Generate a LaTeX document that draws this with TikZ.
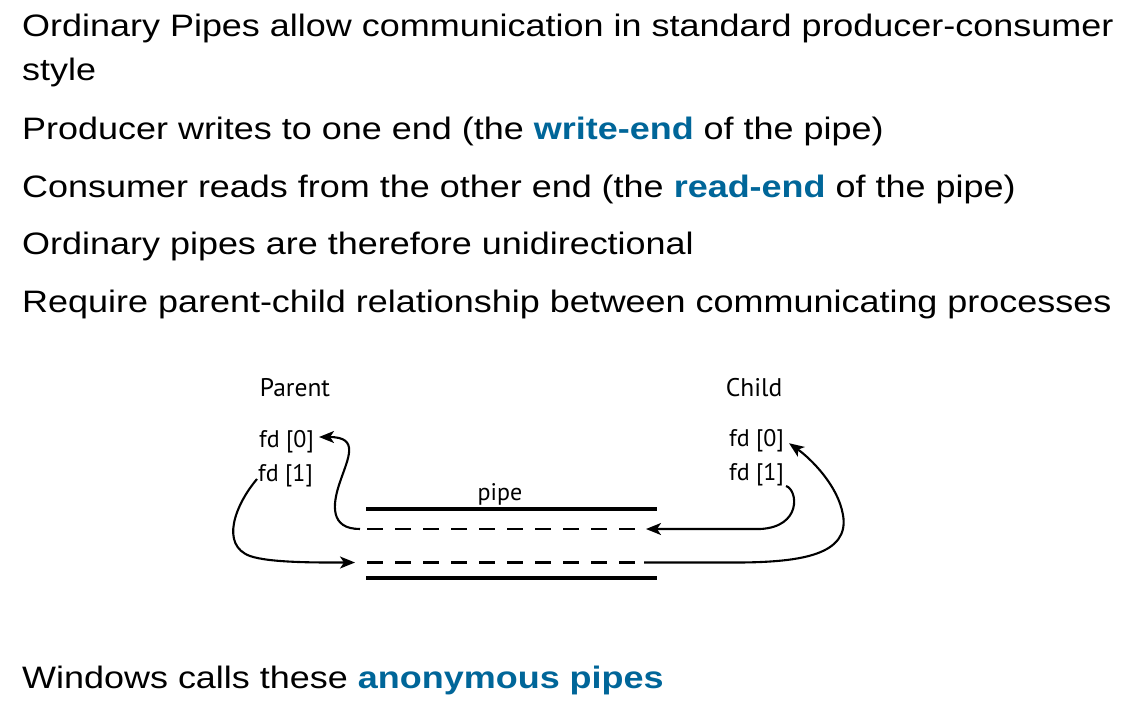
\documentclass[tikz,border=0pt]{standalone}
\usepackage{fontspec}
\setmainfont{Liberation Sans}[FakeStretch=1.16]
\newfontfamily\diagfont{PT Sans}
\usetikzlibrary{arrows.meta}
\definecolor{keyblue}{RGB}{0,102,153}
\tikzset{
  body/.style={anchor=base west, inner sep=0pt, font=\fontsize{31}{31}\selectfont},
  proc/.style={anchor=base, inner sep=0pt, font=\diagfont\fontsize{25.5}{25.5}\selectfont},
  fdlabel/.style={anchor=base west, inner sep=0pt, font=\diagfont\fontsize{24}{24}\selectfont},
  pipewall/.style={line width=4.2pt},
  pipeflow/.style={line width=2.2pt, dash pattern=on 16pt off 12pt},
  conn/.style={line width=2.1pt, -{Stealth[length=15pt,width=12pt,inset=4pt]}},
}
\newcommand{\kwd}[1]{\textbf{\color{keyblue}#1}}
\begin{document}
\begin{tikzpicture}[x=1pt,y=-1pt]
\useasboundingbox (0,0) rectangle (1137,710);
\fill[white] (0,0) rectangle (1137,710);
% bullet text
\node[body] (l1) at (22,36) {Ordinary Pipes allow communication in standard producer-consumer};
\node[body] (l2) at (22,80) {style};
\node[body] (l3) at (22,139) {Producer writes to one end (the \kwd{write-end} of the pipe)};
\node[body] (l4) at (22,197) {Consumer reads from the other end (the \kwd{read-end} of the pipe)};
\node[body] (l5) at (22,254) {Ordinary pipes are therefore unidirectional};
\node[body] (l6) at (22,312) {Require parent-child relationship between communicating processes};
\node[body] (l7) at (22,688) {Windows calls these \kwd{anonymous pipes}};
% diagram labels
\node[proc] (parent) at (295,396) {Parent};
\node[proc] (child) at (754,396) {Child};
\node[fdlabel] (pfd0) at (259,447) {fd [0]};
\node[fdlabel] (pfd1) at (258,481) {fd [1]};
\node[fdlabel] (cfd0) at (729,446) {fd [0]};
\node[fdlabel] (cfd1) at (729,480) {fd [1]};
\node[proc, font=\diagfont\fontsize{24}{24}\selectfont] (pipe) at (500,500) {pipe};
% pipe
\coordinate (topL) at (366,509);  \coordinate (topR) at (657,509);
\coordinate (botL) at (366,578);  \coordinate (botR) at (657,578);
\coordinate (upL) at (367,529);   \coordinate (upR) at (636,529);
\coordinate (loL) at (367,562.5); \coordinate (loR) at (644,562.5);
\draw[pipewall] (topL) -- (topR);
\draw[pipewall] (botL) -- (botR);
\draw[pipeflow] (upL) -- (upR);
\draw[pipeflow] (loL) -- (loR);
% connectors
\coordinate (upLsolid) at (360,529);
\coordinate (pfd0tip) at ([xshift=5pt]pfd0.east);
\draw[conn] (upLsolid) .. controls (330,529) and (332,505) .. (340,482)
  .. controls (348,458) and (360,437) .. (pfd0tip |- 0,437);
\coordinate (pfd1start) at ([xshift=-1pt,yshift=2pt]pfd1.base west);
\coordinate (loLtip) at (355,562.5);
\draw[conn] (pfd1start) .. controls (235,505) and (220,545) .. (250,556)
  .. controls (270,563) and (320,562.5) .. (loLtip);
\coordinate (cfd1start) at ([xshift=2pt,yshift=-6pt]cfd1.base east);
\coordinate (upRtip) at (646,529);
\draw[conn] (cfd1start) .. controls (798,490) and (802,527) .. (760,529) -- (upRtip);
\coordinate (cfd0tip) at ([xshift=5pt,yshift=-3pt]cfd0.east);
\draw[conn] (loR) -- (740,562.5) .. controls (800,562) and (850,555) .. (843,515)
  .. controls (838,485) and (810,458) .. (cfd0tip);
\end{tikzpicture}
\end{document}
